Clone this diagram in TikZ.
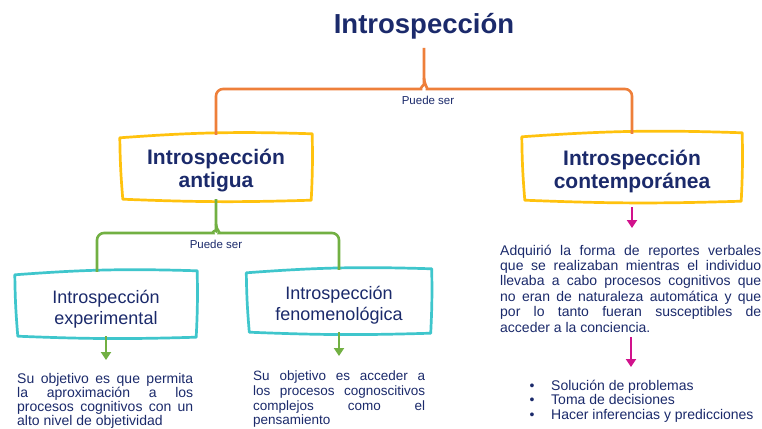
\documentclass[tikz,border=0pt]{standalone}
\usepackage{fontspec}
\setmainfont{Liberation Sans}
\usetikzlibrary{arrows.meta}
\definecolor{navy}{HTML}{1B2A6B}
\definecolor{orng}{HTML}{EE7F3A}
\definecolor{yel}{HTML}{FFC20E}
\definecolor{grn}{HTML}{72B043}
\definecolor{cy}{HTML}{3FC6CC}
\definecolor{mag}{HTML}{D1128C}
\newcommand{\sketchbox}[2]{\draw[#2] ([shift={(0,3)}]#1.north west) to[bend left=3] ([shift={(0,-1)}]#1.north east) to[bend left=2] ([shift={(-1,1)}]#1.south east) to[bend left=2] ([shift={(3,0)}]#1.south west) to[bend left=2] ([shift={(0,3)}]#1.north west) -- cycle;}
\tikzset{
  shapebox/.style={inner sep=0pt, draw=none},
  holder/.style={inner sep=0pt, align=center, text=navy},
  ybox/.style={draw=yel, line width=2.7pt, line join=round},
  cbox/.style={draw=cy, line width=2.7pt, line join=round},
  obr/.style={draw=orng, line width=2.6pt},
  gbr/.style={draw=grn, line width=2.6pt},
  garr/.style={draw=grn, line width=2pt, -{Triangle[length=8pt,width=10pt]}},
  marr/.style={draw=mag, line width=2pt, -{Triangle[length=8pt,width=10pt]}},
  lbl/.style={font=\fontsize{11.5}{13}\selectfont, text=navy, inner sep=0pt, anchor=base},
  ptxt/.style={font=\fontsize{14}{15}\selectfont, text=navy, inner sep=0pt, anchor=base west},
  mtxt/.style={font=\fontsize{13.5}{15}\selectfont, text=navy, inner sep=0pt, anchor=base west}
}
\begin{document}
\begin{tikzpicture}[x=1pt,y=-1pt]
\useasboundingbox (0,0) rectangle (762,428);
\clip (0,0) rectangle (762,428);
\fill[white] (0,0) rectangle (762,428);

% title
\node[anchor=base, font=\bfseries\fontsize{27.5}{30}\selectfont, text=navy, inner xsep=2pt, inner ysep=8pt] (title) at (424,34) {Introspección};

% level 1 boxes
\node[shapebox, minimum width=192pt, minimum height=64pt] (lbox) at (216,167) {};
\node[shapebox, minimum width=220pt, minimum height=66pt] (rbox) at (632,167) {};
\node[holder, font=\bfseries\fontsize{21}{23}\selectfont] (lboxt) at (216,171) {Introspección\\antigua};
\node[holder, font=\bfseries\fontsize{21}{23}\selectfont] (rboxt) at (632,171) {Introspección\\contemporánea};
\sketchbox{lbox}{ybox}
\sketchbox{rbox}{ybox}

% level 2 boxes
\node[shapebox, minimum width=182pt, minimum height=64pt] (exp) at (106,304) {};
\node[shapebox, minimum width=185pt, minimum height=62pt] (fen) at (339,301) {};
\node[holder, font=\fontsize{18}{21}\selectfont] (expt) at (106,309) {Introspección\\experimental};
\node[holder, font=\fontsize{18}{21}\selectfont] (fent) at (339,305) {Introspección\\fenomenológica};
\sketchbox{exp}{cbox}
\sketchbox{fen}{cbox}

% orange bracket
\coordinate (ob) at (424,89);
\draw[obr, rounded corners=7pt] (lbox.north) -- (lbox.north |- ob) -- (414,89) to[out=0,in=-90] (424,78) -- (title.south);
\draw[obr, rounded corners=7pt] (rbox.north) -- (rbox.north |- ob) -- (434,89) to[out=180,in=-90] (424,78);
\node[lbl] (ps1) at (428,104) {Puede ser};

% green bracket
\coordinate (gb) at (216,233);
\coordinate (gl) at (97,233);
\draw[gbr, rounded corners=7pt] (exp.north -| gl) -- (gl) -- (206,233) to[out=0,in=-90] (216,224) -- (lbox.south);
\draw[gbr, rounded corners=7pt] (fen.north) -- (fen.north |- gb) -- (226,233) to[out=180,in=-90] (216,224);
\node[lbl] (ps2) at (216,248) {Puede ser};

% arrows
\coordinate (ga1) at (106,360);
\coordinate (ga2) at (339,356);
\draw[garr] (exp.south) -- (ga1);
\draw[garr] (fen.south) -- (ga2);
\coordinate (ma1s) at (632,207);
\coordinate (ma1e) at (632,228);
\draw[marr] (ma1s) -- (ma1e);
\coordinate (ma2s) at (631,337);
\coordinate (ma2e) at (631,367);
\draw[marr] (ma2s) -- (ma2e);

% left paragraph
\foreach \t [count=\i] in {Su objetivo es que permita, la aproximación a los, procesos cognitivos con un}
  \node[ptxt] (a\i) at (17, {383+14*(\i-1)}) {\makebox[176pt][s]{\t}};
\node[ptxt] (a4) at (17,425) {alto nivel de objetividad};

% middle paragraph
\foreach \t [count=\i] in {Su objetivo es acceder a, los procesos cognoscitivos, complejos como el}
  \node[mtxt] (b\i) at (253, {380+15*(\i-1)}) {\makebox[172pt][s]{\t}};
\node[mtxt] (b4) at (253,424) {pensamiento};

% right paragraph
\foreach \t [count=\i] in {Adquirió la forma de reportes verbales, que se realizaban mientras el individuo, llevaba a cabo procesos cognitivos que, no eran de naturaleza automática y que, por lo tanto fueran susceptibles de}
  \node[ptxt] (c\i) at (500, {255+15.4*(\i-1)}) {\makebox[261pt][s]{\t}};
\node[ptxt] (c6) at (500,332) {acceder a la conciencia.};

% bullets
\foreach \t [count=\i] in {Solución de problemas, Toma de decisiones, Hacer inferencias y predicciones}{
  \node[ptxt, anchor=base] (d\i) at (532, {390+14.5*(\i-1)}) {•};
  \node[ptxt] (e\i) at (551, {390+14.5*(\i-1)}) {\t};
}
\end{tikzpicture}
\end{document}
